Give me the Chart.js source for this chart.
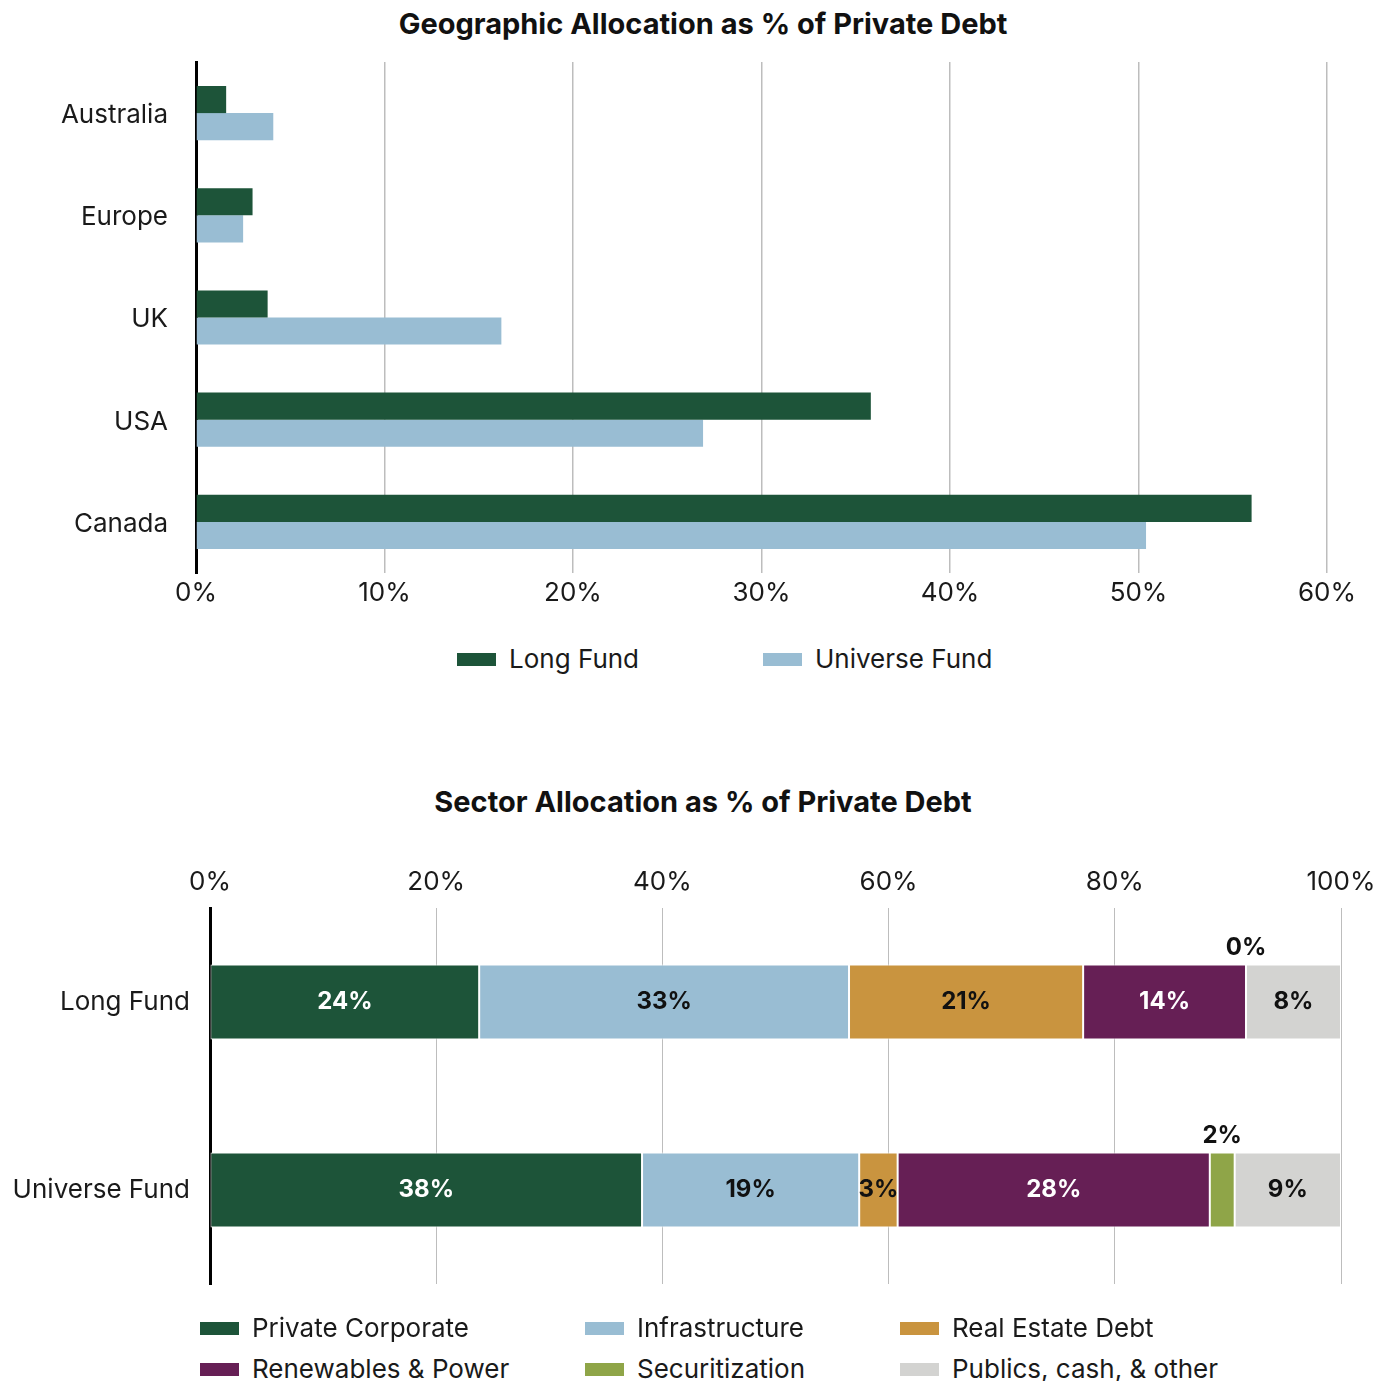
<!DOCTYPE html>
<html>
<head>
<meta charset="utf-8">
<title>Private Debt Allocation</title>
<script src="https://cdn.jsdelivr.net/npm/chart.js@4.4.1/dist/chart.umd.min.js"></script>
<style>
  body { margin: 0; background: #fff; font-family: Inter, "Noto Sans", sans-serif; }
  .wrap { position: absolute; left: 0; width: 1389px; }
  #geoWrap { top: 0; height: 620px; }
  #sectorWrap { top: 760px; height: 560px; }
  .chart-title { position: absolute; left: 0; width: 1406px; text-align: center;
                 font-size: 29px; font-weight: bold; line-height: 36px; color: #111; }
  .legend-item { position: absolute; display: flex; align-items: center; white-space: nowrap;
                 font-size: 26px; line-height: 32px; color: #1a1a1a; }
  .swatch { width: 39px; height: 13px; margin-right: 13px; }
</style>
</head>
<body>
<div class="chart-title" style="top: 6px;">Geographic Allocation as % of Private Debt</div>
<div class="wrap" id="geoWrap"><canvas id="geoChart"></canvas></div>
<div id="geoLegend"></div>
<div class="chart-title" style="top: 784px;">Sector Allocation as % of Private Debt</div>
<div class="wrap" id="sectorWrap"><canvas id="sectorChart"></canvas></div>
<div id="sectorLegend"></div>

<script>
// --- geographic allocation (% of private debt) ---
const regions = ['Australia', 'Europe', 'UK', 'USA', 'Canada'];
const longFundGeo = [1.6, 3.0, 3.8, 35.8, 56.0];
const universeFundGeo = [4.1, 2.5, 16.2, 26.9, 50.4];
const geoTicks = [0, 10, 20, 30, 40, 50, 60];

// --- sector allocation (% of private debt) ---
const funds = ['Long Fund', 'Universe Fund'];
const sectorNames = ['Private Corporate', 'Infrastructure', 'Real Estate Debt',
                     'Renewables & Power', 'Securitization', 'Publics, cash, & other'];
const privateCorporate = [23.8, 38.2];
const infrastructure = [32.7, 19.2];
const realEstateDebt = [20.7, 3.4];
const renewablesPower = [14.4, 27.6];
const securitization = [0, 2.2];
const publicsCashOther = [8.4, 9.4];
const sectorTicks = [0, 20, 40, 60, 80, 100];

const GREEN = '#1d5439';
const BLUE = '#99bdd3';
const GOLD = '#c9943f';
const PURPLE = '#661f55';
const OLIVE = '#8fa548';
const GREY = '#d3d3d1';

const FONT = 'Inter, "Noto Sans", sans-serif';
const GRID = '#bdbdbd';

Chart.defaults.font.family = FONT;
Chart.defaults.color = '#1a1a1a';
Chart.defaults.animation = false;

// value labels for the stacked sector bars
const segmentLabels = {
  id: 'segmentLabels',
  afterDatasetsDraw(chart) {
    const ctx = chart.ctx;
    ctx.save();
    ctx.font = 'bold 24px ' + FONT;
    ctx.textAlign = 'center';
    ctx.textBaseline = 'middle';
    chart.data.datasets.forEach((ds, i) => {
      const meta = chart.getDatasetMeta(i);
      meta.data.forEach((bar, j) => {
        const v = ds.data[j];
        const p = bar.getProps(['x', 'base', 'y', 'height'], true);
        const cx = (p.x + p.base) / 2;
        const text = Math.round(v) + '%';
        if (v < 2.5) {
          // too thin to hold text, put it above the bar
          ctx.fillStyle = '#111';
          ctx.fillText(text, cx, p.y - p.height / 2 - 17);
        } else {
          ctx.fillStyle = ds.labelColor;
          ctx.fillText(text, cx, p.y);
        }
      });
    });
    ctx.restore();
  }
};

// note: chart.js reserves ticks.padding twice in an axis' height
new Chart(document.getElementById('geoChart'), {
  type: 'bar',
  data: {
    labels: regions,
    datasets: [
      { label: 'Long Fund', data: longFundGeo, backgroundColor: GREEN },
      { label: 'Universe Fund', data: universeFundGeo, backgroundColor: BLUE }
    ]
  },
  options: {
    indexAxis: 'y',
    responsive: true,
    maintainAspectRatio: false,
    datasets: { bar: { categoryPercentage: 0.53, barPercentage: 1.0 } },
    layout: { padding: { left: 0, right: 62, top: 62, bottom: 5.8 } },
    plugins: {
      legend: { display: false },
      tooltip: { enabled: false },
      title: { display: false }
    },
    scales: {
      x: {
        min: 0, max: 60,
        afterBuildTicks(scale) { scale.ticks = geoTicks.map(v => ({ value: v })); },
        ticks: { callback: v => v + '%', font: { size: 26 }, padding: 5, color: '#1a1a1a' },
        grid: { color: GRID, lineWidth: 1.5, drawTicks: false },
        border: { display: false }
      },
      y: {
        afterFit(scale) { scale.width = 196; },
        ticks: { font: { size: 26 }, padding: 28, color: '#1a1a1a', labelOffset: 2 },
        grid: { display: false, drawTicks: false },
        border: { display: true, color: '#000', width: 3 }
      }
    }
  }
});

const sectorData = [privateCorporate, infrastructure, realEstateDebt,
                    renewablesPower, securitization, publicsCashOther];
const sectorColors = [GREEN, BLUE, GOLD, PURPLE, OLIVE, GREY];
const labelColors = ['#fff', '#111', '#111', '#fff', '#111', '#111'];

new Chart(document.getElementById('sectorChart'), {
  type: 'bar',
  data: {
    labels: funds,
    datasets: sectorNames.map((name, i) => ({
      label: name,
      data: sectorData[i],
      backgroundColor: sectorColors[i],
      borderColor: '#fff',
      borderWidth: c => (c.raw ? 1 : 0),
      borderSkipped: false,
      labelColor: labelColors[i]
    }))
  },
  options: {
    indexAxis: 'y',
    responsive: true,
    maintainAspectRatio: false,
    datasets: { bar: { categoryPercentage: 0.4, barPercentage: 1.0 } },
    layout: { padding: { left: 0, right: 48, top: 96, bottom: 36 } },
    plugins: {
      legend: { display: false },
      tooltip: { enabled: false },
      title: { display: false }
    },
    scales: {
      x: {
        position: 'top',
        stacked: true,
        min: 0, max: 100,
        afterBuildTicks(scale) { scale.ticks = sectorTicks.map(v => ({ value: v })); },
        ticks: { callback: v => v + '%', font: { size: 26 }, padding: 10.4, color: '#1a1a1a' },
        grid: { color: GRID, lineWidth: 1, drawTicks: false },
        border: { display: false }
      },
      y: {
        stacked: true,
        afterFit(scale) { scale.width = 210; },
        ticks: { font: { size: 26 }, padding: 20, color: '#1a1a1a' },
        grid: { display: false, drawTicks: false },
        border: { display: true, color: '#000', width: 3 }
      }
    }
  },
  plugins: [segmentLabels]
});

// legends as plain html
function addLegendItem(parent, text, color, left, top) {
  const item = document.createElement('div');
  item.className = 'legend-item';
  item.style.left = left + 'px';
  item.style.top = top + 'px';
  const sw = document.createElement('span');
  sw.className = 'swatch';
  sw.style.background = color;
  item.appendChild(sw);
  item.appendChild(document.createTextNode(text));
  parent.appendChild(item);
}

const geoLegend = document.getElementById('geoLegend');
addLegendItem(geoLegend, 'Long Fund', GREEN, 457, 643);
addLegendItem(geoLegend, 'Universe Fund', BLUE, 763, 643);

const sectorLegend = document.getElementById('sectorLegend');
const colLeft = [200, 585, 900];
const rowTop = [1312, 1353];
sectorNames.forEach((name, i) => {
  addLegendItem(sectorLegend, name, sectorColors[i], colLeft[i % 3], rowTop[Math.floor(i / 3)]);
});
</script>
</body>
</html>
